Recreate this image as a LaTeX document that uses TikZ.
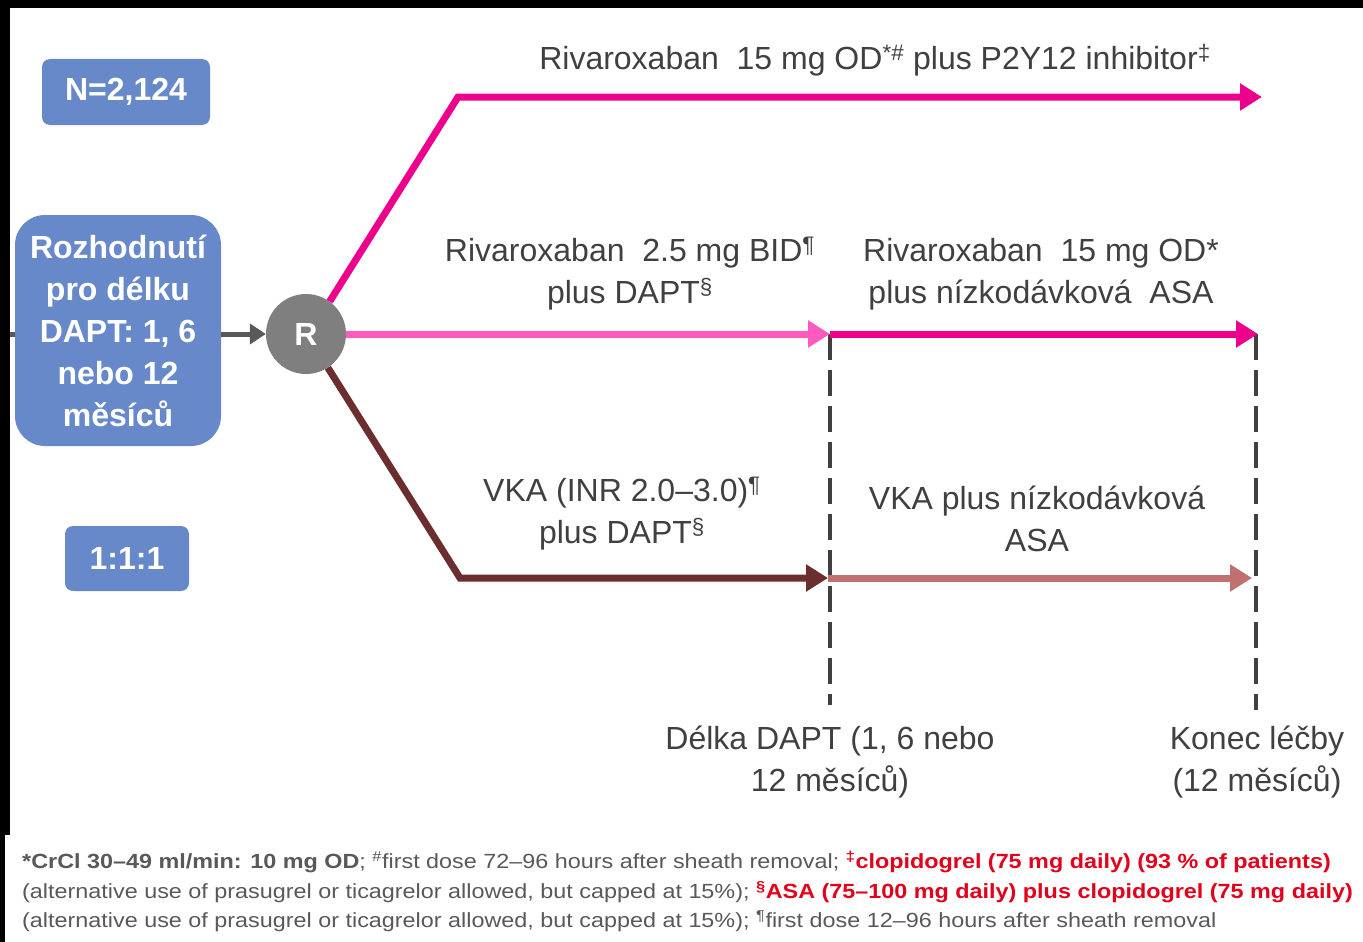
\documentclass[tikz,border=0pt]{standalone}
\usepackage{fontspec}
\usepackage{graphicx}
\setmainfont{Liberation Sans}
\usetikzlibrary{arrows.meta}
\definecolor{boxblue}{HTML}{6789CA}
\definecolor{magenta1}{HTML}{EC008C}
\definecolor{pink1}{HTML}{FF5BBF}
\definecolor{brown1}{HTML}{6B2D2D}
\definecolor{rose1}{HTML}{C0706E}
\definecolor{txtgray}{HTML}{404040}
\definecolor{notegray}{HTML}{595959}
\definecolor{notered}{HTML}{E3001B}
\definecolor{rgray}{HTML}{7F7F7F}
\definecolor{dashgray}{HTML}{404040}
\tikzset{
  bluebox/.style={fill=boxblue, text=white, rounded corners=8pt, align=center,
    font=\fontsize{32}{42}\selectfont\bfseries, inner sep=0pt},
  lbl/.style={text=txtgray, align=center, font=\fontsize{32}{42}\selectfont, inner sep=0pt},
  flow/.style={line width=7pt, -{Triangle[length=22pt,width=26pt]}},
  dashv/.style={draw=dashgray, line width=4pt, dash pattern=on 26pt off 10pt},
  note/.style={anchor=west, inner sep=0pt, text=notegray, font=\fontsize{20.5}{24}\selectfont},
}
\newcommand{\wide}[1]{\scalebox{1.14}[1]{#1}}
\begin{document}
\begin{tikzpicture}[x=1pt,y=-1pt]
\useasboundingbox (0,0) rectangle (1363,942);
\fill[black] (0,0) rectangle (1363,942);
\fill[white] (10,8) rectangle (1363,835);
\fill[white] (5,835) rectangle (1363,942);

% boxes
\node[bluebox, minimum width=168pt, minimum height=66pt] (N) at (126,92) {N=2,124};
\node[bluebox, minimum width=206pt, minimum height=231pt, rounded corners=30pt] (dec) at (118,330.5)
  {Rozhodnutí\\pro délku\\DAPT: 1, 6\\nebo 12\\měsíců};
\node[bluebox, minimum width=124pt, minimum height=65pt] (ratio) at (127,558.5) {1:1:1};
\node[circle, fill=rgray, text=white, minimum size=80pt, inner sep=0pt,
  font=\fontsize{32}{38}\selectfont\bfseries] (R) at (306,334) {R};

% connectors
\coordinate (in) at (10,334);
\draw[notegray, line width=5pt] (in) -- (dec.west |- in);
\draw[notegray, line width=5pt, -{Triangle[length=16pt,width=20pt]}] (dec.east |- R.west) -- (R.west);

\coordinate (t1) at (458,97);
\coordinate (t2) at (1262,97);
\draw[flow, magenta1, line join=miter] (R.54) -- (t1) -- (t2);

\coordinate (m1) at (830,334);
\coordinate (m2) at (1258,334);
\coordinate (b1) at (460,578);
\coordinate (b2) at (828,578);
\coordinate (b3) at (1252,578);
\coordinate (d1top) at (830,334);
\coordinate (d1bot) at (830,705);
\coordinate (d2top) at (1256,334);
\coordinate (d2bot) at (1256,710);

\draw[dashv] (d1top) -- (d1bot);
\draw[dashv] (d2top) -- (d2bot);

\draw[flow, pink1] (R.east) -- (m1);
\draw[flow, magenta1] (m1) -- (m2);
\draw[flow, brown1, line join=miter] (R.-57) -- (b1) -- (b2);
\draw[flow, rose1] (b2) -- (b3);

% labels
\node[lbl] (l1) at (875,60) {Rivaroxaban \ 15 mg OD\textsuperscript{*\#} plus P2Y12 inhibitor\textsuperscript{‡}};
\node[lbl] (l2) at (630,274) {Rivaroxaban \ 2.5 mg BID\textsuperscript{¶}\\plus DAPT\textsuperscript{§}};
\node[lbl] (l3) at (1041,274) {Rivaroxaban \ 15 mg OD*\\plus nízkodávková \ ASA};
\node[lbl] (l4) at (622,514) {VKA (INR 2.0–3.0)\textsuperscript{¶}\\plus DAPT\textsuperscript{§}};
\node[lbl] (l5) at (1037,519) {VKA plus nízkodávková\\ASA};
\node[lbl] (l6) at (830,762) {Délka DAPT (1, 6 nebo\\12 měsíců)};
\node[lbl] (l7) at (1257,762) {Konec léčby\\(12 měsíců)};

% footnotes
\node[note] (f1) at (22,862) {\wide{\textbf{*CrCl 30–49 ml/min: 10 mg OD}; \textsuperscript{\#}first dose 72–96 hours after sheath removal; \textcolor{notered}{\textbf{\textsuperscript{‡}clopidogrel (75 mg daily) (93 \% of patients)}}}};
\node[note] (f2) at (22,892) {\wide{(alternative use of prasugrel or ticagrelor allowed, but capped at 15\%); \textcolor{notered}{\textbf{\textsuperscript{§}ASA (75–100 mg daily) plus clopidogrel (75 mg daily)}}}};
\node[note] (f3) at (22,921) {\wide{(alternative use of prasugrel or ticagrelor allowed, but capped at 15\%); \textsuperscript{¶}first dose 12–96 hours after sheath removal}};
\end{tikzpicture}
\end{document}
